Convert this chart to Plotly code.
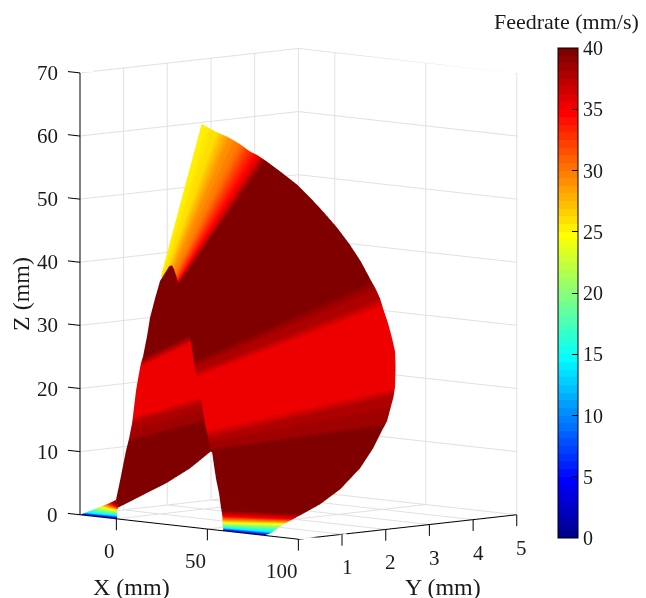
import plotly.graph_objects as go

# Main sheet: one row per ruling (left end / right end), feedrate per ruling
main_feedrate = [0, 3, 7, 14, 24, 35, 40, 40, 40, 40, 40, 39.8, 38.2, 37.8, 35, 35, 35, 35, 35, 35, 37.5, 38, 39.8, 40, 40, 40, 40, 40, 40, 40, 40, 35, 33, 30, 28.5, 25.6, 25.3]
main_left_x = [58.7, 58.7, 58.7, 58.7, 58.2, 58.2, 57.6, 52.9, 47.6, 42.9, 41.1, 38.2, 29.5, 20.8, 19.2, 16.4, 15.9, 14.8, 14.2, 13.7, 13.7, 13.7, 13.7, 13.7, 13.7, 13.7, 12, 10.9, 9.8, 9.8, 9.3, 8.7, 8.2, 6.5, 4.3, 1.6, 0.5]
main_left_y = [0, 0, 0, 0, 0, 0, 0, 0.15, 0.3, 0.45, 0.5, 0.6, 0.8, 1, 1, 1, 1, 1, 1, 1, 1, 1, 1, 1, 1, 1, 1, 1, 1, 1, 1, 1, 1, 1, 1, 1, 1]
main_left_z = [0, 0.1, 0.2, 0.43, 1.2, 2.3, 3.4, 5.5, 7.6, 9.4, 10.5, 11.3, 11.4, 12.1, 13.7, 17.6, 18.7, 19.6, 20.4, 21.2, 22.3, 23.2, 24.2, 25.9, 27.8, 29.7, 31.7, 33.0, 34.1, 35.2, 36.3, 36.6, 36.7, 36.9, 37.0, 37.3, 37.7]
main_right_x = [81.3, 82.4, 83.5, 85.7, 91.7, 92.4, 95.6, 97.6, 94.2, 93.1, 93, 93.7, 93.5, 92.3, 93.1, 93.4, 93.1, 91.5, 89.3, 86.5, 84.9, 82.6, 79.3, 74.4, 68.3, 61.2, 53.5, 46.3, 39.2, 30.9, 22.7, 17.7, 13.3, 7.8, 1.2, -5.4, -13.1]
main_right_y = [0, 0, 0, 0, 0, 0.2, 0.3, 0.6, 1.2, 1.7, 2.0, 2.2, 2.3, 2.5, 2.5, 2.5, 2.5, 2.5, 2.5, 2.5, 2.5, 2.5, 2.5, 2.5, 2.5, 2.5, 2.5, 2.5, 2.5, 2.5, 2.5, 2.5, 2.5, 2.5, 2.5, 2.5, 2.5]
main_right_z = [0, 0.16, 0.27, 0.65, 2.1, 2.8, 3.7, 5.0, 6.8, 9.7, 12.6, 15.6, 16.7, 20.4, 22.0, 25.2, 27.6, 29.6, 31.9, 34.2, 35.7, 37.1, 38.7, 41.2, 43.7, 46.2, 48.5, 50.5, 52.3, 53.9, 55.4, 56.2, 56.7, 57.7, 58.6, 59.2, 60.2]

# Left lobe (with the small tab on the X axis)
lobe_feedrate = [0, 14, 24, 35, 40, 40, 40, 40, 39.8, 38.2, 37.8, 35, 35, 35, 37.5, 39.8, 40, 40, 40, 40, 40, 40]
lobe_left_x = [-20, -17.2, -9, -3.5, -0.2, -0.4, 1.8, 2.9, 4, 4.5, 6.2, 6.75, 8.4, 10.6, 11.2, 12.3, 14.5, 16.1, 18.9, 21.6, 26.6, 28.2]
lobe_left_y = [0, 0, 0, 0, 0, 0.1, 0.1, 0.1, 0.1, 0.1, 0.1, 0.1, 0.1, 0.1, 0.1, 0.1, 0.1, 0.1, 0.1, 0.1, 0.1, 0.1]
lobe_left_z = [0, 0.4, 1.6, 2.4, 3.0, 5.9, 9.2, 10.8, 12.1, 12.7, 15.2, 16.45, 20.5, 24.2, 25, 26.1, 29.4, 32.3, 35.5, 38.3, 40.8, 41.0]
lobe_right_x = [0.4, 0.4, 0.4, 0.9, 1.5, 23, 35.7, 47.3, 41.6, 41, 39.9, 38.8, 36.1, 33.9, 33.3, 33.3, 32.2, 30.6, 29.5, 27.8, 24.5, 23.4]
lobe_right_y = [0, 0, 0, 0, 0, 0.2, 0.2, 0.2, 0.3, 0.3, 0.3, 0.3, 0.3, 0.3, 0.3, 0.3, 0.3, 0.3, 0.3, 0.3, 0.3, 0.3]
lobe_right_z = [0, 0.5, 1.3, 1.8, 1.9, 6.3, 9.0, 12.1, 16.1, 17.1, 19.2, 20.5, 24.7, 28.6, 29.3, 30.1, 31.8, 33.7, 35.7, 37.2, 40.1, 40.7]

x_ticks = [0, 50, 100]
y_ticks = [1, 2, 3, 4, 5]
y_tick_labels = ["1", "2", "3", "4", "5"]
z_ticks = [0, 10, 20, 30, 40, 50, 60, 70]
cbar_ticks = [0, 5, 10, 15, 20, 25, 30, 35, 40]

X_MIN, X_MAX, Y_MIN, Y_MAX, Z_MIN, Z_MAX = -20, 100, 0, 5, 0, 70
FONT = "Liberation Serif"
INK = "#1a1a1a"


def jet_stepped(n=64):
    def ch(t, a, b):
        return max(0.0, min(1.0, min(4 * t + a, -4 * t + b)))
    stops = []
    for i in range(n):
        t = (i + 1) / n
        col = "rgb(%d,%d,%d)" % (round(255 * ch(t, -1.5, 4.5)), round(255 * ch(t, -0.5, 3.5)), round(255 * ch(t, 0.5, 2.5)))
        stops.append([i / n, col])
        stops.append([(i + 1) / n, col])
    return stops


def rows(a, b):
    return [[p, q] for p, q in zip(a, b)]


def segments(pairs):
    xs, ys, zs = [], [], []
    for p, q in pairs:
        xs += [p[0], q[0], None]
        ys += [p[1], q[1], None]
        zs += [p[2], q[2], None]
    return xs, ys, zs


def line_trace(pairs, color, width):
    xs, ys, zs = segments(pairs)
    return go.Scatter3d(x=xs, y=ys, z=zs, mode="lines", line=dict(color=color, width=width),
                        hoverinfo="skip", showlegend=False)


scale = jet_stepped()
flat = dict(ambient=1, diffuse=0, specular=0, roughness=1, fresnel=0)

fig = go.Figure()

grid = []
for z in z_ticks:
    grid.append(((X_MIN, Y_MIN, z), (X_MIN, Y_MAX, z)))
    grid.append(((X_MIN, Y_MAX, z), (X_MAX, Y_MAX, z)))
for y in y_ticks:
    grid.append(((X_MIN, y, Z_MIN), (X_MIN, y, Z_MAX)))
    grid.append(((X_MIN, y, Z_MIN), (X_MAX, y, Z_MIN)))
for x in x_ticks:
    grid.append(((x, Y_MAX, Z_MIN), (x, Y_MAX, Z_MAX)))
    grid.append(((x, Y_MIN, Z_MIN), (x, Y_MAX, Z_MIN)))
fig.add_trace(line_trace(grid, "#e0e0e0", 2))

axes = [((X_MIN, Y_MIN, Z_MIN), (X_MAX, Y_MIN, Z_MIN)),
        ((X_MAX, Y_MIN, Z_MIN), (X_MAX, Y_MAX, Z_MIN)),
        ((X_MIN, Y_MIN, Z_MIN), (X_MIN, Y_MIN, Z_MAX))]
for x in x_ticks:
    axes.append(((x, Y_MIN, Z_MIN), (x, Y_MIN, Z_MIN - 1.8)))
for y in y_ticks:
    axes.append(((X_MAX, y, Z_MIN), (X_MAX, y, Z_MIN - 1.8)))
for z in z_ticks:
    axes.append(((X_MIN, Y_MIN, z), (X_MIN - 6.6, Y_MIN, z)))
fig.add_trace(line_trace(axes, "#000000", 2))

fig.add_trace(go.Surface(
    x=rows(main_left_x, main_right_x), y=rows(main_left_y, main_right_y), z=rows(main_left_z, main_right_z),
    surfacecolor=rows(main_feedrate, main_feedrate), cmin=0, cmax=40, colorscale=scale,
    lighting=flat, hoverinfo="skip",
    colorbar=dict(x=558 / 646, xanchor="left", y=60 / 598, yanchor="bottom", len=490 / 598, lenmode="fraction",
                  thickness=20, thicknessmode="pixels", outlinecolor="black", outlinewidth=1,
                  tickvals=cbar_ticks, ticks="inside", ticklen=6, tickcolor="black", xpad=0, ypad=0,
                  tickfont=dict(family=FONT, size=20, color=INK))))
fig.add_trace(go.Surface(
    x=rows(lobe_left_x, lobe_right_x), y=rows(lobe_left_y, lobe_right_y), z=rows(lobe_left_z, lobe_right_z),
    surfacecolor=rows(lobe_feedrate, lobe_feedrate), cmin=0, cmax=40, colorscale=scale,
    lighting=flat, hoverinfo="skip", showscale=False))

scene_notes = []
tick_font = dict(family=FONT, size=21, color=INK)
for x, dx in zip(x_ticks, [-7, -12, -16]):
    scene_notes.append(dict(x=x, y=Y_MIN, z=Z_MIN, text=str(x), showarrow=False, xshift=dx, yshift=-32, font=tick_font))
for y, lab in zip(y_ticks, y_tick_labels):
    scene_notes.append(dict(x=X_MAX, y=y, z=Z_MIN, text=lab, showarrow=False, xshift=5, yshift=-33, font=tick_font))
for z in z_ticks:
    scene_notes.append(dict(x=X_MIN, y=Y_MIN, z=z, text=str(z), showarrow=False, xanchor="right", xshift=-20, font=tick_font))

title_font = dict(family=FONT, size=24, color=INK)
paper_notes = [
    dict(x=131 / 646, y=1 - 587 / 598, text="X (mm)", font=title_font),
    dict(x=443 / 646, y=1 - 587 / 598, text="Y (mm)", font=title_font),
    dict(x=21 / 646, y=1 - 294 / 598, text="Z (mm)", textangle=-90, font=title_font),
    dict(x=566 / 646, y=1 - 22 / 598, text="Feedrate (mm/s)", font=dict(family=FONT, size=22, color=INK)),
]
for n in paper_notes:
    n.update(xref="paper", yref="paper", showarrow=False, xanchor="center", yanchor="middle")

hidden = dict(visible=False, autorange=False)
D = 1.5
fig.update_layout(
    width=646, height=598, margin=dict(l=0, r=0, t=0, b=0), paper_bgcolor="white", showlegend=False,
    annotations=paper_notes,
    scene=dict(
        domain=dict(x=[0, 584 / 646], y=[0, 0.9933]),
        xaxis=dict(range=[-27, 100], **hidden),
        yaxis=dict(range=[0, 5], **hidden),
        zaxis=dict(range=[-2.5, 70], **hidden),
        aspectmode="manual", aspectratio=dict(x=1.1007, y=1.04, z=1.5506),
        camera=dict(projection=dict(type="orthographic"), up=dict(x=0, y=0, z=1), center=dict(x=0, y=0, z=0),
                    eye=dict(x=0.7027 * D, y=-0.7027 * D, z=0.112 * D)),
        annotations=scene_notes,
    ),
)
fig.write_html("out.html", config=dict(displayModeBar=False),
               post_script="document.body.style.margin='0';document.documentElement.style.overflow='hidden';")
